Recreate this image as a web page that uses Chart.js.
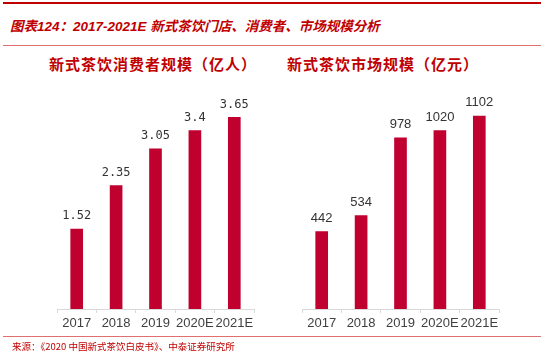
<!DOCTYPE html>
<html>
<head>
<meta charset="utf-8">
<script src="https://cdn.jsdelivr.net/npm/chart.js@4/dist/chart.umd.min.js"></script>
<style>
html,body{margin:0;padding:0;background:#fff;}
#wrap{position:relative;width:550px;height:355px;overflow:hidden;background:#fff;}
.abs{position:absolute;}
.line{position:absolute;left:3px;width:538px;}
#title{left:10px;top:17px;font-family:"Liberation Sans","Noto Sans CJK SC",sans-serif;font-weight:bold;font-style:italic;font-size:13.5px;color:#c00000;white-space:nowrap;line-height:20px;}
.sub{font-family:"Noto Sans CJK SC",sans-serif;font-weight:bold;font-size:15px;letter-spacing:1px;color:#c00000;white-space:nowrap;line-height:20px;top:54px;}
#src{left:12px;top:339px;font-family:"Noto Sans CJK SC",sans-serif;font-size:9.5px;color:#c00000;white-space:nowrap;line-height:14px;}
canvas{position:absolute;}
</style>
</head>
<body>
<div id="wrap">
  <div class="line" style="top:2px;height:2px;background:#c00000;"></div>
  <div id="title" class="abs">图表124：2017-2021E 新式茶饮门店、消费者、市场规模分析</div>
  <div class="line" style="top:45px;height:1px;background:#e07070;"></div>
  <div class="abs sub" style="left:49px;">新式茶饮消费者规模（亿人）</div>
  <div class="abs sub" style="left:287px;">新式茶饮市场规模（亿元）</div>
  <div style="position:absolute;left:0;top:80px;width:275px;height:260px;"><canvas id="c1"></canvas></div>
  <div style="position:absolute;left:275px;top:80px;width:275px;height:260px;"><canvas id="c2"></canvas></div>
  <div class="line" style="top:336px;height:1px;background:#e07070;"></div>
  <div id="src" class="abs">来源：《2020 中国新式茶饮白皮书》、中泰证券研究所</div>
</div>
<script>
const categories = ["2017", "2018", "2019", "2020E", "2021E"];
const consumers = [1.52, 2.35, 3.05, 3.4, 3.65];
const consumerLabels = ["1.52", "2.35", "3.05", "3.4", "3.65"];
const market = [442, 534, 978, 1020, 1102];
const marketLabels = ["442", "534", "978", "1020", "1102"];

const barColor = "#c0002f";

function labelPlugin(labels, font) {
  return {
    id: "valueLabels",
    afterDatasetsDraw(chart) {
      const ctx = chart.ctx;
      const meta = chart.getDatasetMeta(0);
      ctx.save();
      ctx.font = font;
      ctx.fillStyle = "#333333";
      ctx.textAlign = "center";
      ctx.textBaseline = "bottom";
      meta.data.forEach((bar, i) => {
        ctx.fillText(labels[i], bar.x, bar.y - 7);
      });
      ctx.restore();
    }
  };
}

function makeChart(id, values, labels, maxV, padL, padR, labelFont) {
  return new Chart(document.getElementById(id), {
    type: "bar",
    data: {
      labels: categories,
      datasets: [{
        data: values,
        backgroundColor: barColor,
        borderWidth: 0,
        barThickness: 12
      }]
    },
    options: {
      responsive: true,
      maintainAspectRatio: false,
      animation: false,
      events: [],
      layout: { padding: { left: padL, right: padR, top: 19, bottom: 0 } },
      plugins: { legend: { display: false }, tooltip: { enabled: false }, title: { display: false } },
      scales: {
        y: { display: false, min: 0, max: maxV },
        x: {
          afterFit(scale) { scale.height = 31; },
          grid: { offset: true, drawOnChartArea: false, drawTicks: true, tickLength: 4, color: "#d9d9d9", lineWidth: 1 },
          border: { display: true, color: "#d9d9d9", width: 1 },
          ticks: { color: "#404040", padding: 3, maxRotation: 0, autoSkip: false,
                   font: { family: "Liberation Sans, Arial, sans-serif", size: 13 } }
        }
      }
    },
    plugins: [labelPlugin(labels, labelFont)]
  });
}

makeChart("c1", consumers, consumerLabels, 4, 57, 21, "12px 'DejaVu Sans Mono', monospace");
makeChart("c2", market, marketLabels, 1200, 27, 51, "13px 'Liberation Sans', Arial, sans-serif");
</script>
</body>
</html>
